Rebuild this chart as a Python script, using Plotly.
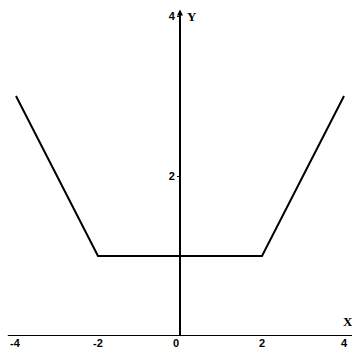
import plotly.graph_objects as go

# Piecewise function: y = |x| - 1 for |x| >= 2, otherwise 1
x_vals = [-4, -2, 2, 4]
y_vals = [3, 1, 1, 3]

x_ticks = [-4, -2, 0, 2, 4]
x_tick_text = ["-4", "-2", "0", "2", "4"]
y_ticks = [2, 4]
y_tick_text = ["2", "4"]

W, H = 352, 350
x_range = [-4.39, 4.195]
y_range = [0, 4.2]

tick_font = dict(family="Liberation Sans", size=11, color="black")
label_font = dict(family="Liberation Serif", size=13, color="black")

fig = go.Figure()
fig.add_trace(go.Scatter(
    x=x_vals, y=y_vals, mode="lines",
    line=dict(color="black", width=2),
    hoverinfo="skip", showlegend=False, cliponaxis=False,
))

# Coordinate axes drawn through the origin
fig.add_shape(type="line", xref="x", yref="y", x0=-4.2, x1=4.2, y0=0, y1=0,
              line=dict(color="black", width=2))
fig.add_shape(type="line", xref="x", yref="y", x0=0, x1=0, y0=-0.03, y1=4.02,
              line=dict(color="black", width=2))
fig.add_annotation(x=0, y=4.08, ax=0, ay=4.0, xref="x", yref="y", axref="x", ayref="y",
                   showarrow=True, arrowhead=2, arrowsize=0.8, arrowwidth=1.5,
                   arrowcolor="black", text="")

# Tick labels along the horizontal axis, just under the line
for xv, txt in zip(x_ticks, x_tick_text):
    fig.add_annotation(x=xv, y=0, xref="x", yref="y", text=f"<b>{txt}</b>",
                       showarrow=False, font=tick_font, yanchor="middle",
                       xanchor="center", yshift=-7, xshift=-4 if xv == 0 else 0)

# Axis names
fig.add_annotation(x=0.12, y=4.0, xref="x", yref="y", text="<b>Y</b>", showarrow=False,
                   font=label_font, xanchor="left", yanchor="middle")
fig.add_annotation(x=4.1, y=0.06, xref="x", yref="y", text="<b>X</b>", showarrow=False,
                   font=label_font, xanchor="center", yanchor="bottom")

fig.update_layout(
    width=W, height=H,
    margin=dict(l=0, r=0, t=0, b=14),
    paper_bgcolor="white", plot_bgcolor="white",
    xaxis=dict(range=x_range, showticklabels=False,
               showgrid=False, zeroline=False, showline=False, ticks="",
               automargin=False, fixedrange=True),
    yaxis=dict(range=y_range, tickvals=y_ticks,
               ticktext=[f"<b>{t}</b>" for t in y_tick_text],
               anchor="free", position=180 / W, side="left",
               showgrid=False, zeroline=False, showline=False,
               ticks="outside", ticklen=3, tickcolor="black", tickwidth=1,
               tickfont=tick_font, automargin=False, fixedrange=True,
               ticklabelstandoff=0),
)

fig.write_html("out.html")
